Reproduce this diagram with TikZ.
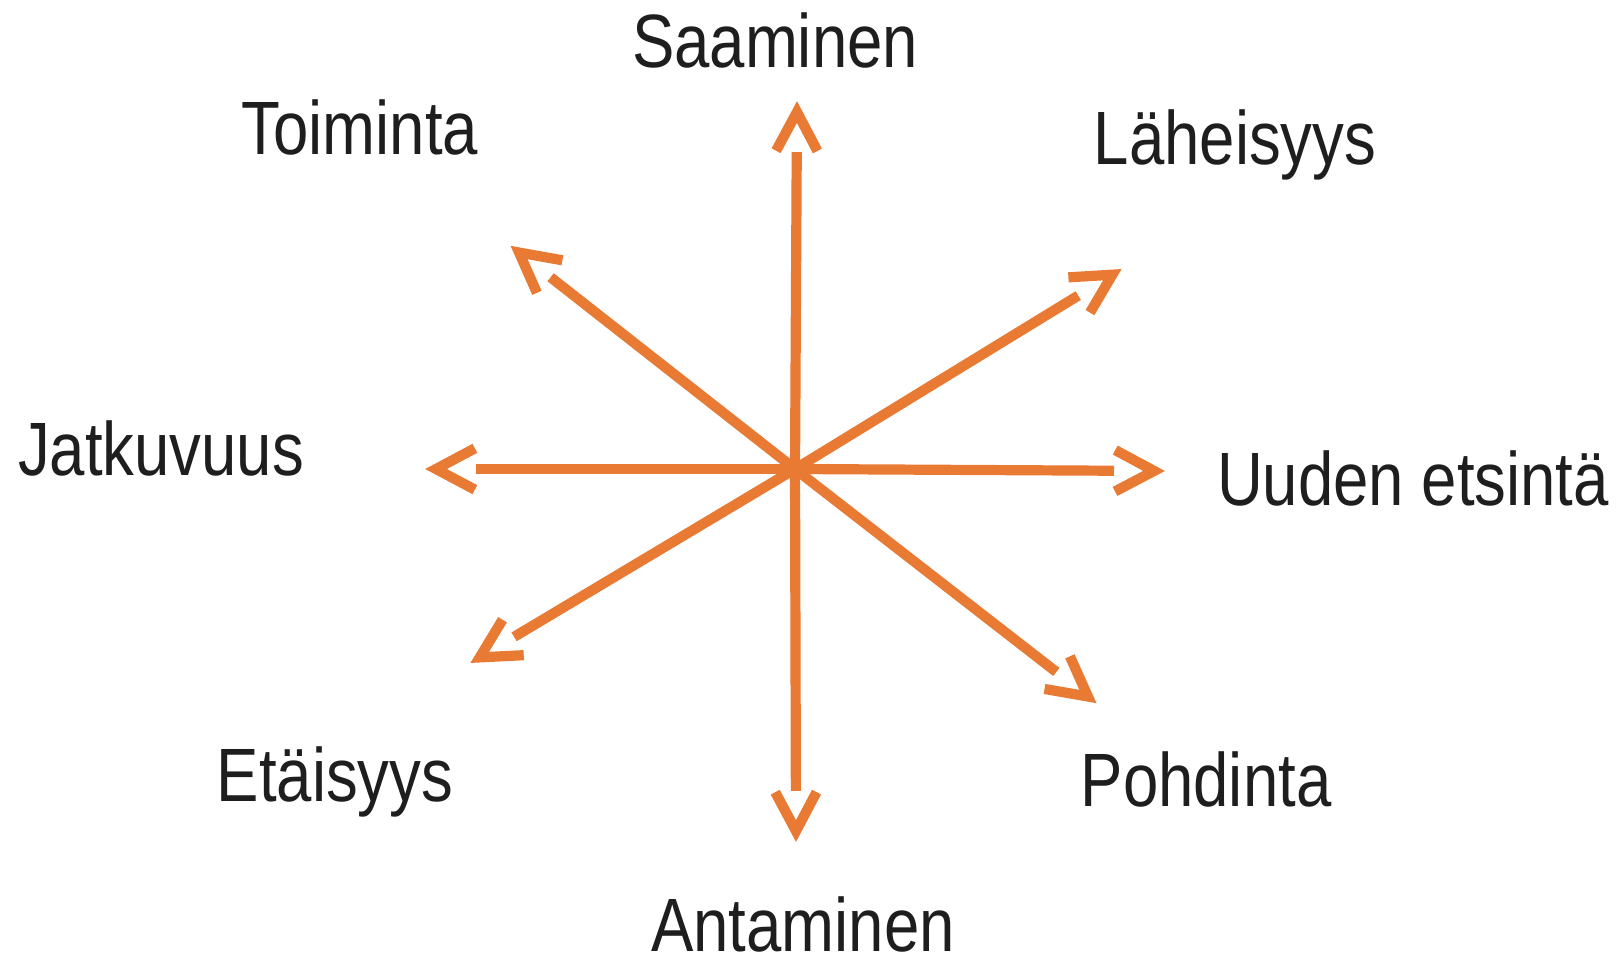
\documentclass[tikz,border=0pt]{standalone}
\usepackage{fontspec}
\setmainfont{Liberation Sans}[FakeStretch=0.84]
\usetikzlibrary{calc}
\definecolor{spokeorange}{RGB}{232,122,52}
\definecolor{labelgray}{RGB}{30,30,30}

\begin{document}
\begin{tikzpicture}[x=0.01cm, y=-0.01cm,
  shaft/.style={spokeorange, line width=2.9pt, shorten >=0.49cm},
  head/.style={spokeorange, line width=2.9pt, line join=miter, line cap=butt},
  word/.style={labelgray, inner sep=0pt, anchor=base, text depth=0pt,
    font=\fontsize{21.5}{26}\selectfont}]
  \useasboundingbox (0,0) rectangle (1616,958);
  \coordinate (c) at (795,469);
  % arrow tips
  \coordinate (up) at (797,103);
  \coordinate (down) at (796,840);
  \coordinate (left) at (427,469);
  \coordinate (right) at (1163,471);
  \coordinate (ur) at (1120,270);
  \coordinate (lr) at (1095,702);
  \coordinate (ul) at (512,247);
  \coordinate (ll) at (472,662);
  \foreach \t in {up, down, left, right, ur, lr, ul, ll} {
    \draw[shaft] (c) -- (\t);
    \coordinate (v) at ($(\t)!0.09cm!(c)$);
    \draw[head] ($(v)!0.44cm!28:(c)$) -- (v) -- ($(v)!0.44cm!-28:(c)$);
  }
  % labels
  \node[word] (saaminen) at (775,68) {Saaminen};
  \node[word] (toiminta) at (360,155) {Toiminta};
  \node[word] (laheisyys) at (1235,165) {Läheisyys};
  \node[word] (jatkuvuus) at (161,475) {Jatkuvuus};
  \node[word] (uuden) at (1413,505) {Uuden etsintä};
  \node[word] (etaisyys) at (335,801) {Etäisyys};
  \node[word] (pohdinta) at (1206,806) {Pohdinta};
  \node[word] (antaminen) at (803,951) {Antaminen};
\end{tikzpicture}
\end{document}
